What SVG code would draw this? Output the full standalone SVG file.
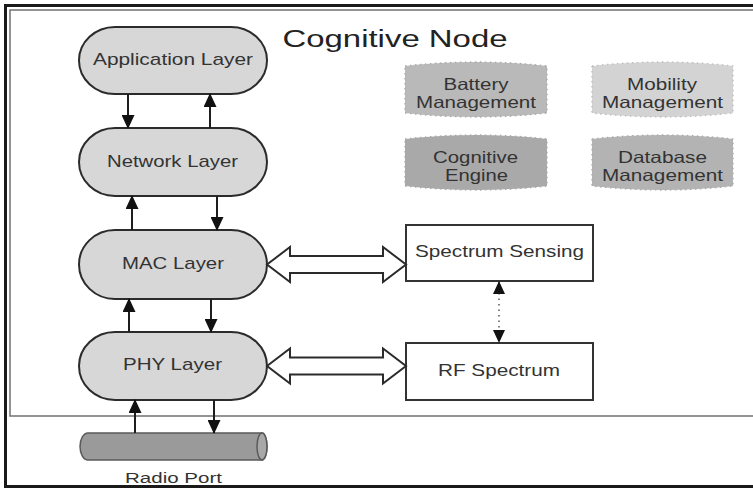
<svg xmlns="http://www.w3.org/2000/svg" width="753" height="490" viewBox="0 0 753 490">
<style>
text{font-family:"Liberation Sans",Arial,sans-serif;fill:#333;text-anchor:middle}
.pill{fill:#d7d7d7;stroke:#2b2b2b;stroke-width:2}
.cyl{stroke:#a8a8a8;stroke-width:1.3;stroke-dasharray:1.5 3.5}
.box{fill:#fff;stroke:#333;stroke-width:2}
.lbl{font-size:17px}
.sml{font-size:16.5px}
.wire{stroke:#1e1e1e;stroke-width:2;fill:none}
.dot{stroke:#555;stroke-width:1.5;stroke-dasharray:1.5 4;fill:none}
.hollow{fill:#fff;stroke:#2b2b2b;stroke-width:2;stroke-linejoin:miter}
</style>
<defs>
<marker id="ah" viewBox="0 0 14 13" markerWidth="14" markerHeight="13" refX="13" refY="6.5" orient="auto" markerUnits="userSpaceOnUse">
<path d="M0,0 L14,6.5 L0,13 Z" fill="#111"/>
</marker>
<marker id="ahs" viewBox="0 0 13 12" markerWidth="13" markerHeight="12" refX="12" refY="6" orient="auto-start-reverse" markerUnits="userSpaceOnUse">
<path d="M0,0 L13,6 L0,12 Z" fill="#111"/>
</marker>
</defs>
<rect width="753" height="490" fill="#fff"/>
<g id="frame">
<rect x="5.5" y="5.5" width="770" height="481" fill="none" stroke="#1a1a1a" stroke-width="3"/>
<rect x="10" y="10" width="770" height="406" fill="none" stroke="#7a7a7a" stroke-width="1.6"/>
<text x="395" y="47" style="font-size:23px;fill:#222" textLength="225" lengthAdjust="spacingAndGlyphs">Cognitive Node</text>
</g>
<g id="application-layer">
<rect class="pill" x="79" y="27" width="188" height="67" rx="36" ry="33.5"/>
<text class="lbl" x="173" y="65" textLength="160" lengthAdjust="spacingAndGlyphs">Application Layer</text>
</g>
<g id="network-layer">
<rect class="pill" x="79" y="128" width="188" height="68" rx="36" ry="34"/>
<text class="lbl" x="172.5" y="167" textLength="131" lengthAdjust="spacingAndGlyphs">Network Layer</text>
</g>
<g id="mac-layer">
<rect class="pill" x="79" y="230" width="188" height="69" rx="36" ry="34.5"/>
<text class="lbl" x="173" y="269" textLength="102" lengthAdjust="spacingAndGlyphs">MAC Layer</text>
</g>
<g id="phy-layer">
<rect class="pill" x="79" y="332" width="188" height="68" rx="36" ry="34"/>
<text class="lbl" x="172.5" y="370" textLength="99" lengthAdjust="spacingAndGlyphs">PHY Layer</text>
</g>
<g id="radio-port">
<path d="M88,433 L262,433 A5,13.5 0 0 1 262,460 L88,460 A8,13.5 0 0 1 88,433 Z" fill="#9a9a9a" stroke="#5a5a5a" stroke-width="1.5"/>
<ellipse cx="262" cy="446.5" rx="5" ry="13.5" fill="#a8a8a8" stroke="#5a5a5a" stroke-width="1.5"/>
<text x="173.5" y="483" style="font-size:15.5px" textLength="97" lengthAdjust="spacingAndGlyphs">Radio Port</text>
</g>
<g id="battery-management">
<path class="cyl" d="M405,66 Q476,58 547,66 L547,113 Q476,121 405,113 Z" fill="#b9b9b9"/>
<text class="sml" x="476" y="90" textLength="65" lengthAdjust="spacingAndGlyphs">Battery</text>
<text class="sml" x="476" y="108" textLength="120" lengthAdjust="spacingAndGlyphs">Management</text>
</g>
<g id="mobility-management">
<path class="cyl" d="M592,66 Q662.5,58 733,66 L733,113 Q662.5,121 592,113 Z" fill="#d3d3d3" style="stroke:#bcbcbc"/>
<text class="sml" x="662" y="90" textLength="70" lengthAdjust="spacingAndGlyphs">Mobility</text>
<text class="sml" x="662.5" y="108" textLength="121" lengthAdjust="spacingAndGlyphs">Management</text>
</g>
<g id="cognitive-engine">
<path class="cyl" d="M405,139 Q476,131 547,139 L547,186 Q476,194 405,186 Z" fill="#a9a9a9"/>
<text class="sml" x="475.5" y="163" textLength="85" lengthAdjust="spacingAndGlyphs">Cognitive</text>
<text class="sml" x="476.5" y="181" textLength="63" lengthAdjust="spacingAndGlyphs">Engine</text>
</g>
<g id="database-management">
<path class="cyl" d="M592,139 Q662.5,131 733,139 L733,186 Q662.5,194 592,186 Z" fill="#b3b3b3"/>
<text class="sml" x="662.5" y="163" textLength="89" lengthAdjust="spacingAndGlyphs">Database</text>
<text class="sml" x="662.5" y="181" textLength="121" lengthAdjust="spacingAndGlyphs">Management</text>
</g>
<g id="spectrum-sensing">
<rect class="box" x="406" y="225" width="187" height="56"/>
<text class="lbl" x="499.5" y="257" textLength="169" lengthAdjust="spacingAndGlyphs">Spectrum Sensing</text>
</g>
<g id="rf-spectrum">
<rect class="box" x="406" y="343" width="187" height="57"/>
<text class="lbl" x="499" y="376" textLength="122" lengthAdjust="spacingAndGlyphs">RF Spectrum</text>
</g>
<g id="connectors">
<line class="wire" x1="128" y1="94" x2="128" y2="128" marker-end="url(#ah)"/>
<line class="wire" x1="210" y1="128" x2="210" y2="94" marker-end="url(#ah)"/>
<line class="wire" x1="217" y1="196" x2="217" y2="230" marker-end="url(#ah)"/>
<line class="wire" x1="132" y1="230" x2="132" y2="196" marker-end="url(#ah)"/>
<line class="wire" x1="211" y1="299" x2="211" y2="332" marker-end="url(#ah)"/>
<line class="wire" x1="129" y1="332" x2="129" y2="299" marker-end="url(#ah)"/>
<line class="wire" x1="214" y1="400" x2="214" y2="433" marker-end="url(#ah)"/>
<line class="wire" x1="135" y1="433" x2="135" y2="400" marker-end="url(#ah)"/>
<line class="dot" x1="499" y1="282" x2="499" y2="342" marker-start="url(#ahs)" marker-end="url(#ahs)"/>
<polygon class="hollow" points="267,264.5 290,247 290,256 383,256 383,247 406,264.5 383,282 383,273 290,273 290,282"/>
<polygon class="hollow" points="267,366 290,348.5 290,357.5 383,357.5 383,348.5 406,366 383,383.5 383,374.5 290,374.5 290,383.5"/>
</g>
</svg>
